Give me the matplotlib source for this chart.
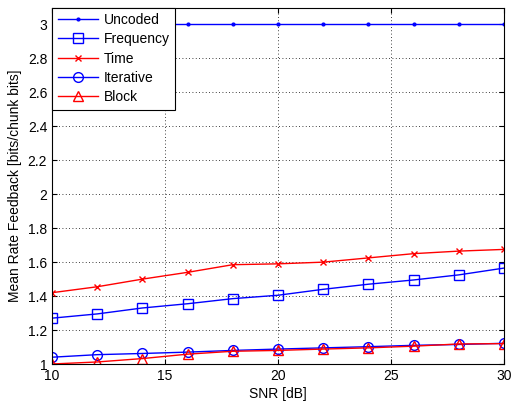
import numpy as np
import matplotlib
matplotlib.use("Agg")
import matplotlib.pyplot as plt

snr = [10, 12, 14, 16, 18, 20, 22, 24, 26, 28, 30]
uncoded = [3.0] * 11
frequency = [1.27, 1.295, 1.33, 1.355, 1.385, 1.405, 1.44, 1.47, 1.495, 1.525, 1.565]
time_ = [1.42, 1.455, 1.50, 1.54, 1.585, 1.59, 1.60, 1.625, 1.65, 1.665, 1.675]
iterative = [1.04, 1.055, 1.062, 1.07, 1.08, 1.088, 1.095, 1.102, 1.11, 1.115, 1.122]
block = [1.0, 1.012, 1.032, 1.058, 1.075, 1.08, 1.088, 1.095, 1.105, 1.118, 1.12]

plt.rcParams['font.family'] = ['Liberation Sans', 'DejaVu Sans']
fig = plt.figure(figsize=(5.11, 4.01), dpi=100)
ax = fig.add_axes([52/511, 37/401, 452/511, 356.5/401])

ax.plot(snr, uncoded, color="b", marker=".", markersize=4, lw=1, label="Uncoded")
ax.plot(snr, frequency, color="b", marker="s", markersize=7, mfc="none", lw=1, label="Frequency")
ax.plot(snr, time_, color="r", marker="x", markersize=5, lw=1, label="Time")
ax.plot(snr, iterative, color="b", marker="o", markersize=7, mfc="none", lw=1, label="Iterative")
ax.plot(snr, block, color="r", marker="^", markersize=7, mfc="none", lw=1, label="Block")

ax.set_xlim(10, 30)
ax.set_ylim(1, 3.1)
ax.set_xticks([10, 15, 20, 25, 30])
ax.set_yticks(np.arange(1, 3.01, 0.2))
ax.set_yticklabels(["1", "1.2", "1.4", "1.6", "1.8", "2", "2.2", "2.4", "2.6", "2.8", "3"])
ax.tick_params(direction="in", labelsize=10, top=True, right=True)
ax.grid(True, linestyle=(0, (1, 3)), color="k", lw=0.6)
ax.set_xlabel("SNR [dB]", fontsize=10, labelpad=3)
ax.set_ylabel("Mean Rate Feedback [bits/chunk bits]", fontsize=10, labelpad=4)
leg = ax.legend(loc="upper left", fancybox=False, edgecolor="k", framealpha=1,
                fontsize=10, borderaxespad=0, handlelength=2.9, handletextpad=0.4,
                labelspacing=0.38)
leg.get_frame().set_linewidth(0.8)

fig.savefig("out.png", dpi=100)
